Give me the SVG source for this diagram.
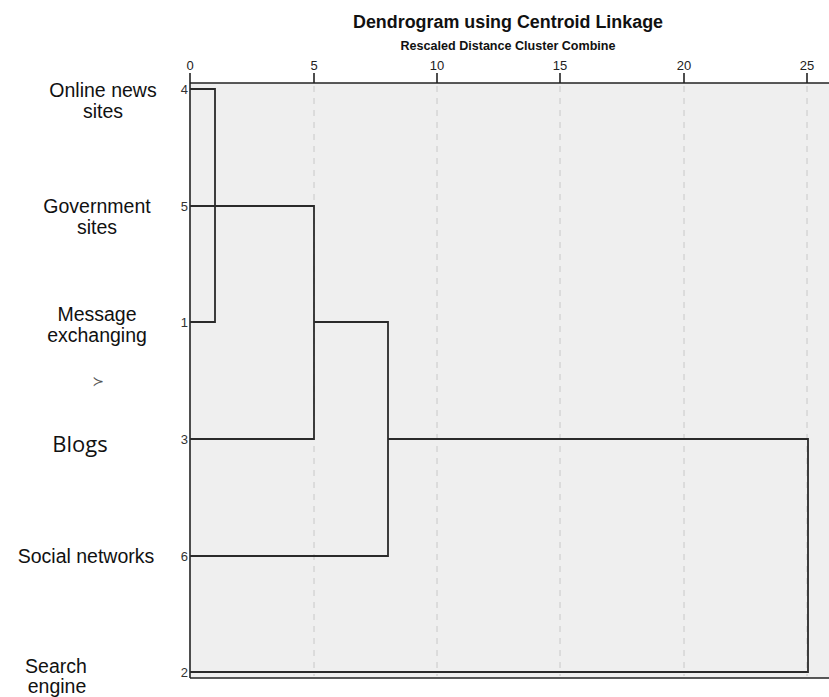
<svg xmlns="http://www.w3.org/2000/svg" width="829" height="697" viewBox="0 0 829 697">
<style>
.lbl{font-family:"Liberation Sans",Arial,sans-serif;font-size:19.5px;fill:#111;text-anchor:middle}
.num{font-family:"Liberation Sans",Arial,sans-serif;font-size:13px;fill:#333;text-anchor:end}
.tick{font-family:"Liberation Sans",Arial,sans-serif;font-size:13px;fill:#222;text-anchor:middle}
.grid{stroke:#c8c8c8;stroke-width:1;stroke-dasharray:6,6}
.axis{stroke:#222;stroke-width:1.6;fill:none}
.den{stroke:#2a2a2a;stroke-width:1.8;fill:none}
</style>
<rect width="829" height="697" fill="#ffffff"/>
<rect x="190" y="83" width="639" height="595" fill="#efefef"/>
<g id="title">
<text x="508" y="28" font-family="Liberation Sans,Arial,sans-serif" font-size="18" font-weight="bold" text-anchor="middle" fill="#111" textLength="310" lengthAdjust="spacingAndGlyphs">Dendrogram using Centroid Linkage</text>
<text x="508" y="50" font-family="Liberation Sans,Arial,sans-serif" font-size="12" font-weight="bold" text-anchor="middle" fill="#111" textLength="215" lengthAdjust="spacingAndGlyphs">Rescaled Distance Cluster Combine</text>
</g>
<g id="grid">
<line class="grid" x1="314" y1="86" x2="314" y2="676"/>
<line class="grid" x1="437" y1="86" x2="437" y2="676"/>
<line class="grid" x1="560" y1="86" x2="560" y2="676"/>
<line class="grid" x1="684" y1="86" x2="684" y2="676"/>
<line class="grid" x1="807" y1="86" x2="807" y2="676"/>
</g>
<g id="axis">
<line class="axis" x1="190" y1="83" x2="829" y2="83"/>
<line class="axis" x1="190" y1="678" x2="829" y2="678"/>
<line class="axis" x1="190" y1="73" x2="190" y2="678"/>
<line class="axis" x1="314" y1="73" x2="314" y2="83"/>
<line class="axis" x1="437" y1="73" x2="437" y2="83"/>
<line class="axis" x1="560" y1="73" x2="560" y2="83"/>
<line class="axis" x1="684" y1="73" x2="684" y2="83"/>
<line class="axis" x1="807" y1="73" x2="807" y2="83"/>
<text class="tick" x="190" y="70">0</text>
<text class="tick" x="314" y="70">5</text>
<text class="tick" x="437" y="70">10</text>
<text class="tick" x="560" y="70">15</text>
<text class="tick" x="684" y="70">20</text>
<text class="tick" x="807" y="70">25</text>
</g>
<g id="connectors">
<path class="den" d="M190,89 H215 V322 H190"/>
<path class="den" d="M190,206 H314 V439 H190"/>
<path class="den" d="M314,322 H388 V556 H190"/>
<path class="den" d="M388,439 H808 V672 H190"/>
</g>
<g id="node-4">
<text class="num" x="188" y="94">4</text>
<text class="lbl" x="103" y="97">Online news</text>
<text class="lbl" x="103" y="118">sites</text>
</g>
<g id="node-5">
<text class="num" x="188" y="211">5</text>
<text class="lbl" x="97" y="213">Government</text>
<text class="lbl" x="97" y="234">sites</text>
</g>
<g id="node-1">
<text class="num" x="188" y="327">1</text>
<text class="lbl" x="97" y="321">Message</text>
<text class="lbl" x="97" y="342">exchanging</text>
</g>
<g id="mark">
<text x="98" y="386" font-family="DejaVu Sans,sans-serif" font-size="14" fill="#555" text-anchor="middle">≻</text>
</g>
<g id="node-3">
<text class="num" x="188" y="444">3</text>
<text x="80" y="452" font-family="Open Sans,sans-serif" font-size="22" fill="#111" text-anchor="middle">Blogs</text>
</g>
<g id="node-6">
<text class="num" x="188" y="561">6</text>
<text class="lbl" x="86" y="563">Social networks</text>
</g>
<g id="node-2">
<text class="num" x="188" y="677">2</text>
<text class="lbl" x="56" y="673">Search</text>
<text class="lbl" x="57" y="693">engine</text>
</g>
</svg>
